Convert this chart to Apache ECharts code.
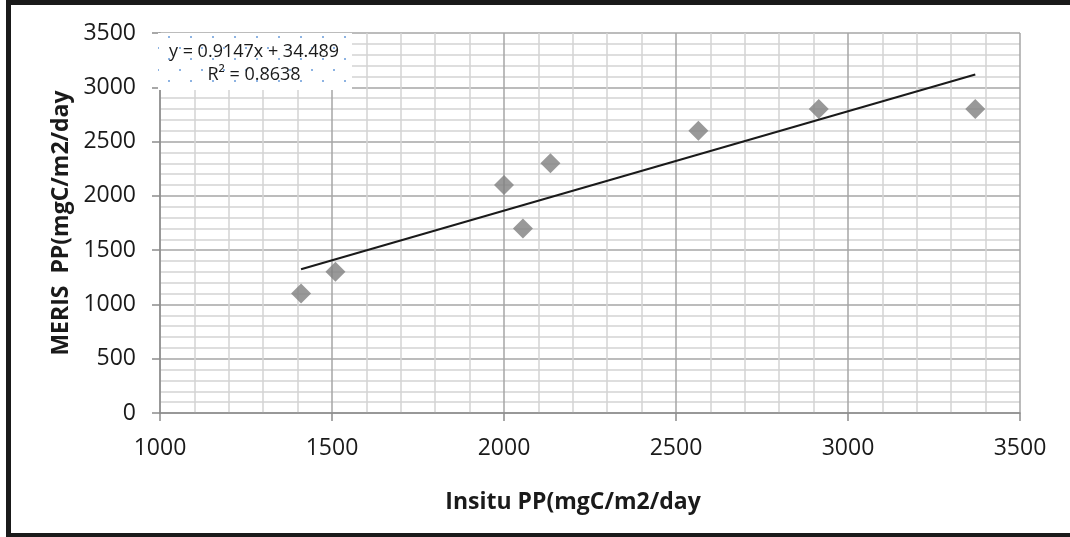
<!DOCTYPE html>
<html>
<head>
<meta charset="utf-8">
<script src="https://cdn.jsdelivr.net/npm/echarts@6/dist/echarts.min.js"></script>
<style>
html,body{margin:0;padding:0;background:#fff;}
#chart{width:1070px;height:537px;}
</style>
</head>
<body>
<div id="chart"></div>
<script>
// ---- data ----
var insituPP = [1410, 1510, 2000, 2055, 2135, 2565, 2915, 3370];
var merisPP  = [1100, 1300, 2100, 1700, 2300, 2600, 2800, 2800];
var trendSlope = 0.9147;
var trendIntercept = 34.489;
var trendText = ['y = 0.9147x + 34.489', 'R\u00B2 = 0.8638'];
var xAxisTitle = 'Insitu PP(mgC/m2/day';
var yAxisTitle = 'MERIS  PP(mgC/m2/day';

var scatterData = insituPP.map(function (x, i) { return [x, merisPP[i]]; });
var xMin = Math.min.apply(null, insituPP), xMax = Math.max.apply(null, insituPP);
var trendData = [[xMin, trendSlope * xMin + trendIntercept], [xMax, trendSlope * xMax + trendIntercept]];

// dotted pattern for the equation label
var pc = document.createElement('canvas');
pc.width = 22; pc.height = 22;
var ctx = pc.getContext('2d');
ctx.fillStyle = '#ffffff'; ctx.fillRect(0, 0, 22, 22);
ctx.fillStyle = '#8db3e2';
ctx.fillRect(3, 3, 2, 2);
ctx.fillRect(14, 14, 2, 2);

var FONT = '"Open Sans", "Noto Sans", sans-serif';
var chart = echarts.init(document.getElementById('chart'), null, {renderer: 'canvas'});
var majorColor = '#a6a6a6', minorColor = '#d4d4d4';

function axisCommon() {
  return {
    type: 'value',
    interval: 500,
    axisLine: {show: true, onZero: false, lineStyle: {color: '#8c8c8c', width: 1.5}},
    axisTick: {show: true, inside: false, length: 8, lineStyle: {color: '#8c8c8c', width: 1.5}},
    minorTick: {show: false, splitNumber: 5},
    splitLine: {show: true, lineStyle: {color: majorColor, width: 1.5}},
    minorSplitLine: {show: true, lineStyle: {color: minorColor, width: 1.5}},
    axisLabel: {color: '#1a1a1a', fontSize: 23, fontFamily: FONT, formatter: function (v) { return String(v); }},
    nameTextStyle: {color: '#1a1a1a', fontSize: 23, fontWeight: 'bold', fontFamily: FONT},
    nameLocation: 'middle'
  };
}

var xAx = axisCommon();
xAx.min = 1000; xAx.max = 3500;
xAx.axisLabel.margin = 24;
xAx.name = xAxisTitle; xAx.nameGap = 78;
xAx.nameTextStyle.padding = [0, 34, 0, 0];

var yAx = axisCommon();
yAx.min = 0; yAx.max = 3500;
yAx.axisLabel.margin = 24;
yAx.name = yAxisTitle; yAx.nameGap = 86;

chart.setOption({
  backgroundColor: '#ffffff',
  animation: false,
  grid: {left: 160, right: 50, top: 33, bottom: 124, containLabel: false},
  xAxis: xAx,
  yAxis: yAx,
  series: [
    {
      type: 'scatter',
      data: scatterData,
      symbol: 'diamond',
      symbolSize: 20,
      itemStyle: {color: '#7f7f7f'},
      z: 3
    },
    {
      type: 'line',
      data: trendData,
      showSymbol: false,
      symbol: 'none',
      lineStyle: {color: '#1a1a1a', width: 2},
      z: 4
    }
  ],
  graphic: [
    {type: 'rect', shape: {x: 158, y: 33, width: 194, height: 57}, style: {fill: {image: pc, repeat: 'repeat'}}, z: 50},
    {type: 'text', x: 254, y: 52, style: {text: trendText[0], fontSize: 18, fontFamily: FONT, fill: '#1a1a1a', align: 'center', verticalAlign: 'middle'}, z: 51},
    {type: 'text', x: 254, y: 75, style: {text: trendText[1], fontSize: 18, fontFamily: FONT, fill: '#1a1a1a', align: 'center', verticalAlign: 'middle'}, z: 51},
    {type: 'rect', shape: {x: 6, y: 0, width: 1064, height: 5}, style: {fill: '#1a1a1a'}, z: 60},
    {type: 'rect', shape: {x: 6, y: 0, width: 5, height: 537}, style: {fill: '#1a1a1a'}, z: 60},
    {type: 'rect', shape: {x: 6, y: 533, width: 1064, height: 4}, style: {fill: '#1a1a1a'}, z: 60}
  ]
});
</script>
</body>
</html>
